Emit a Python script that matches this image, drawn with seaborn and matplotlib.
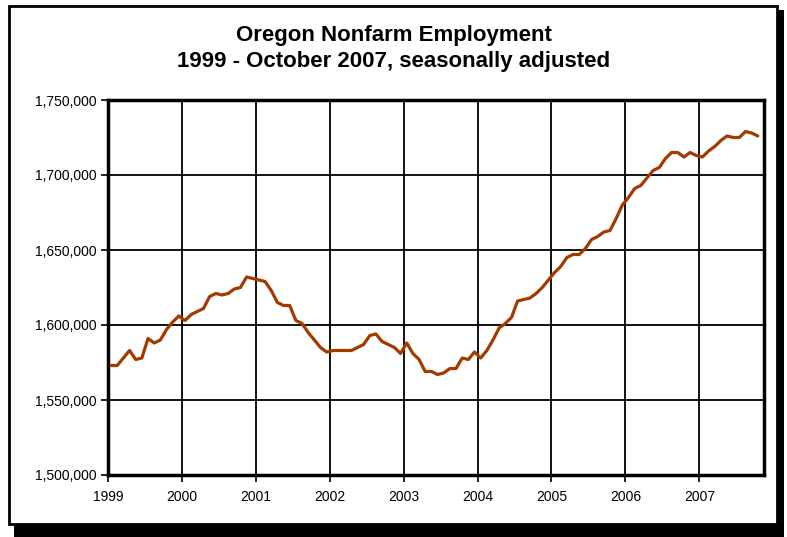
import numpy as np
import pandas as pd
import matplotlib
matplotlib.use("Agg")
import matplotlib.pyplot as plt
from matplotlib.patches import Rectangle
import seaborn as sns

# monthly nonfarm employment, Jan 1999 - Oct 2007 (thousands)
employment = [
    1573, 1573, 1578, 1583, 1577, 1578, 1591, 1588, 1590, 1597, 1602, 1606,  # 1999
    1603, 1607, 1609, 1611, 1619, 1621, 1620, 1621, 1624, 1625, 1632, 1631,  # 2000
    1630, 1629, 1623, 1615, 1613, 1613, 1603, 1601, 1595, 1590, 1585, 1582,  # 2001
    1583, 1583, 1583, 1583, 1585, 1587, 1593, 1594, 1589, 1587, 1585, 1581,  # 2002
    1588, 1581, 1577, 1569, 1569, 1567, 1568, 1571, 1571, 1578, 1577, 1582,  # 2003
    1578, 1583, 1590, 1598, 1601, 1605, 1616, 1617, 1618, 1621, 1625, 1630,  # 2004
    1635, 1639, 1645, 1647, 1647, 1651, 1657, 1659, 1662, 1663, 1671, 1680,  # 2005
    1685, 1691, 1693, 1698, 1703, 1705, 1711, 1715, 1715, 1712, 1715, 1713,  # 2006
    1712, 1716, 1719, 1723, 1726, 1725, 1725, 1729, 1728, 1726,              # 2007
]
years = [1999, 2000, 2001, 2002, 2003, 2004, 2005, 2006, 2007]
y_ticks = [1500000, 1550000, 1600000, 1650000, 1700000, 1750000]

df = pd.DataFrame({"month": np.arange(len(employment)),
                   "jobs": np.array(employment) * 1000})

sns.set_style("white")
plt.rcParams["font.family"] = ["Liberation Sans", "DejaVu Sans"]

fig = plt.figure(figsize=(7.87, 5.37), dpi=100)
ax = fig.add_axes([108 / 787, 1 - 475 / 537, 656 / 787, 375 / 537])
ax.set_zorder(5)

# outer frame with drop shadow
fig.patches.append(Rectangle((14 / 787, 0.0), 770 / 787, 527 / 537, transform=fig.transFigure,
                             facecolor="black", edgecolor="none", zorder=0))
fig.patches.append(Rectangle((9 / 787, 13 / 537), 768 / 787, 518 / 537, transform=fig.transFigure,
                             facecolor="white", edgecolor="black", linewidth=2, zorder=1))

sns.lineplot(data=df, x="month", y="jobs", ax=ax, color="#A33B00", linewidth=2.3, zorder=3)

ax.set_xlim(-0.5, len(employment) - 0.5 + 0.5)
ax.set_ylim(1500000, 1750000)
ax.set_xticks([-0.5 + 12 * k for k in range(len(years))])
ax.set_xticklabels([str(y) for y in years])
ax.set_yticks(y_ticks)
ax.set_yticklabels([f"{v:,}" for v in y_ticks])
ax.grid(True, color="black", linewidth=1.3)
ax.set_axisbelow(True)
ax.patch.set_alpha(0)
for s in ax.spines.values():
    s.set_visible(True)
    s.set_color("black")
    s.set_linewidth(2.5)
ax.tick_params(axis="both", which="major", direction="out", length=5, width=1.2,
               color="black", labelsize=10, labelcolor="black", pad=3, left=True, bottom=True)
ax.tick_params(axis="x", pad=6)
ax.set_xlabel("")
ax.set_ylabel("")

fig.text(0.5, 1 - 35 / 537, "Oregon Nonfarm Employment", ha="center", va="center",
         fontsize=16, fontweight="bold", color="black", zorder=6)
fig.text(0.5, 1 - 62 / 537, "1999 - October 2007, seasonally adjusted", ha="center", va="center",
         fontsize=16, fontweight="bold", color="black", zorder=6)

fig.savefig("out.png", dpi=100)
